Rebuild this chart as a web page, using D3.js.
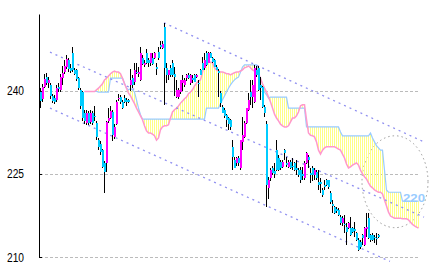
<!DOCTYPE html>
<html>
<head>
<meta charset="utf-8">
<script src="https://cdn.jsdelivr.net/npm/d3@7"></script>
<style>
  body { margin: 0; background: #fff; }
</style>
</head>
<body>
<script>
// candles, one every period
var opens = [240.0,238.5,240.8,242.5,241.5,241.0,239.0,238.8,238.4,240.8,
  240.2,242.3,243.5,244.3,245.6,244.2,246.8,243.8,243.8,242.3,
  240.2,239.8,236.0,234.2,236.0,234.4,236.0,235.5,234.2,231.2,
  230.5,229.3,227.0,227.0,234.5,235.2,236.2,231.7,234.0,238.5,
  238.9,238.0,238.8,238.4,238.3,241.1,242.3,241.6,243.5,243.0,
  242.0,246.0,244.7,246.9,245.5,245.1,246.0,246.0,244.3,247.0,
  248.3,247.8,251.6,244.2,242.9,244.2,245.1,243.0,238.9,238.9,
  239.8,241.5,241.1,242.3,242.9,241.4,242.3,242.9,242.6,241.5,
  243.8,245.1,244.2,246.9,245.1,246.9,246.0,245.6,244.3,243.6,
  239.6,237.1,236.6,235.7,235.1,234.8,229.9,227.5,227.0,227.9,
  226.1,230.8,231.7,234.2,236.6,239.8,238.9,238.0,243.8,244.2,
  241.1,240.7,237.1,234.0,222.5,224.3,226.1,225.5,229.3,227.9,
  227.2,226.3,229.3,227.0,226.3,227.2,226.5,227.0,226.0,225.7,
  225.7,225.0,224.3,227.0,228.1,225.2,226.1,224.8,225.4,223.6,
  223.5,222.1,223.0,223.9,223.9,221.6,219.5,219.0,218.7,218.5,
  217.2,216.1,216.0,215.4,215.2,215.2,215.2,215.0,214.3,213.1,
  212.8,214.0,212.2,215.0,217.0,214.0,214.0,213.6,213.5,214.0];

var highs = [240.5,241.2,243.0,243.2,242.5,241.5,239.5,239.2,241.0,241.4,
  243.0,244.5,245.5,246.5,246.0,244.8,248.0,244.2,244.0,242.6,
  240.5,240.0,236.5,236.5,236.3,236.6,236.4,237.2,234.5,231.5,
  231.0,229.6,227.3,234.5,237.0,237.2,236.6,234.0,238.3,239.4,
  239.2,238.3,239.2,238.8,238.6,244.0,242.8,245.1,245.1,244.3,
  248.0,246.5,245.5,247.5,246.0,246.9,246.9,247.0,245.0,248.0,
  249.0,249.0,252.3,245.1,243.8,244.7,245.5,244.3,242.0,240.5,
  242.0,242.9,242.3,243.0,243.2,243.0,242.9,243.1,243.0,242.0,
  244.0,246.1,246.9,247.2,247.0,247.0,246.2,245.8,244.6,244.0,
  240.0,237.5,237.0,235.9,235.3,235.0,231.1,228.1,228.0,228.3,
  229.0,235.3,234.5,237.0,239.7,242.0,242.0,244.7,244.5,244.5,
  242.5,240.9,237.5,234.5,224.5,226.0,226.5,227.0,231.1,228.5,
  227.5,227.5,229.6,228.0,227.5,227.5,227.9,227.2,227.5,226.0,
  226.3,226.3,227.3,229.0,228.5,226.1,226.5,226.1,225.7,225.7,
  224.3,222.5,223.9,224.1,224.0,221.9,220.3,219.2,219.0,218.8,
  217.5,217.4,217.6,216.1,216.3,217.2,215.5,216.3,214.5,213.4,
  213.0,214.2,215.5,218.0,218.0,214.2,214.3,214.0,214.3,214.2];

var lows = [237.0,238.0,240.5,241.0,240.5,238.5,237.8,237.6,238.0,239.8,
  239.8,241.0,243.0,244.0,243.5,243.2,243.5,242.8,241.8,240.2,
  236.8,234.5,234.0,233.8,233.8,234.0,233.8,234.5,231.2,229.3,
  228.5,226.0,221.6,225.4,234.2,235.0,231.0,231.3,233.8,238.2,
  237.6,236.8,237.8,237.2,237.8,240.0,240.5,241.0,243.0,242.5,
  241.8,244.7,244.3,244.9,244.3,244.5,244.7,245.8,242.9,245.5,
  247.5,247.5,237.5,241.4,242.0,242.5,242.5,239.0,238.7,238.5,
  239.5,240.0,240.8,241.8,242.2,241.0,241.4,241.6,242.4,238.9,
  242.8,243.8,243.8,244.5,245.0,245.9,245.1,244.3,243.7,238.9,
  237.1,236.0,235.1,233.5,233.0,233.0,225.7,226.0,226.5,226.5,
  225.8,229.3,231.5,234.0,236.4,237.5,236.9,237.8,242.6,240.0,
  238.4,236.9,235.3,219.0,220.5,223.8,224.8,224.3,225.5,225.5,
  225.8,226.0,227.5,226.3,226.0,225.9,225.7,225.5,224.8,224.5,
  223.3,223.9,224.0,226.8,226.0,223.4,223.7,223.9,224.0,222.1,
  221.6,220.8,222.1,222.8,222.3,219.6,218.0,217.8,218.0,217.4,
  215.8,215.6,214.3,212.2,215.0,213.8,214.3,213.6,212.9,211.0,
  211.5,212.2,212.0,213.6,213.2,212.8,212.9,212.5,212.2,213.4];

var closes = [238.2,240.8,242.2,241.5,242.0,239.0,238.2,238.0,240.6,240.4,
  242.5,243.3,244.5,245.8,244.0,243.6,243.8,243.0,242.2,240.6,
  237.2,235.2,234.5,236.0,234.2,236.0,234.2,235.3,231.7,229.8,
  228.9,226.2,225.4,234.4,235.2,236.4,232.0,233.5,238.0,238.7,
  238.0,237.0,238.0,238.0,238.0,242.0,241.1,243.8,243.3,243.4,
  246.9,244.9,245.1,245.1,245.0,246.9,244.9,246.9,244.0,246.0,
  248.0,248.5,244.2,242.9,243.8,242.9,242.9,242.5,240.2,240.2,
  242.0,242.0,242.0,242.9,242.4,242.9,242.0,241.6,242.9,241.2,
  242.9,243.8,245.6,244.7,246.9,246.0,245.2,244.4,243.8,243.2,
  237.8,236.0,235.4,234.8,234.0,233.5,228.1,226.1,227.9,227.0,
  231.1,232.0,234.2,236.9,238.4,238.9,241.1,244.2,242.9,240.2,
  240.6,237.1,236.0,223.0,223.9,225.7,225.2,225.0,225.7,225.7,
  226.1,227.2,228.8,226.6,227.2,226.1,226.2,225.7,225.8,224.8,
  223.9,224.6,227.0,228.8,227.5,224.8,224.8,225.7,224.3,223.0,
  223.2,221.2,222.7,223.0,222.6,219.9,219.2,218.0,218.4,217.6,
  216.1,217.0,215.7,214.5,216.1,214.0,214.5,214.7,213.1,211.3,
  211.8,213.4,215.2,215.4,213.4,213.1,213.1,213.4,213.3,213.6];

// ichimoku spans, starting at period 22 and running 20 periods past the last candle
var cloudStart = 22;
var spanA = [239.9,239.9,239.9,239.9,239.9,239.9,
  240.2,240.5,240.9,241.3,242.0,242.3,242.7,243.1,243.4,243.6,
  243.4,243.4,243.1,242.3,241.3,240.5,239.6,239.1,238.4,237.7,
  236.9,236.2,235.5,234.8,233.7,232.8,232.4,232.4,232.2,231.9,
  231.1,231.5,233.0,233.5,233.7,233.7,233.9,235.1,236.2,236.6,
  236.9,237.3,237.8,238.2,238.6,238.9,239.5,239.8,240.2,240.9,
  241.4,241.8,242.0,243.4,244.7,245.1,245.2,245.2,245.1,244.2,
  243.8,243.6,243.4,243.4,243.3,243.1,243.1,242.9,243.1,243.3,
  243.4,243.4,243.6,243.8,244.2,244.3,244.5,244.2,243.8,243.6,
  243.4,243.1,242.3,241.3,240.5,239.8,238.9,238.0,236.9,235.8,
  235.1,234.6,234.0,233.7,233.5,233.5,233.7,234.4,235.1,235.1,
  235.5,236.2,237.3,237.5,237.5,234.8,232.4,232.0,231.9,231.7,
  230.8,229.3,228.6,229.3,229.7,229.9,229.9,229.9,229.9,229.9,
  229.7,229.5,229.3,228.6,227.9,226.8,226.1,226.3,226.6,226.8,
  227.0,226.6,225.7,225.0,224.5,224.1,223.4,222.8,222.5,222.1,
  221.9,221.7,221.7,221.4,220.3,219.2,218.1,217.4,217.2,217.0,
  217.0,217.0,217.0,216.9,216.9,216.9,216.7,216.3,215.9,215.6,
  215.4,215.2];

var spanB = [239.9,239.9,239.9,239.9,239.9,239.9,239.9,
  239.8,239.8,239.8,239.8,239.8,239.8,
  242.3,242.3,242.3,242.3,242.3,242.3,242.3,
  241.4,240.5,240.2,240.4,240.2,239.8,238.4,236.9,235.7,234.9,
  234.9,234.9,234.9,234.9,234.9,234.9,234.9,234.9,234.9,234.9,
  234.9,234.9,234.9,234.9,234.9,234.9,234.9,234.9,234.9,234.9,
  234.9,234.9,234.9,234.9,234.9,234.9,234.9,234.9,234.9,234.9,234.9,
  236.9,236.9,236.9,236.9,236.9,236.9,236.9,
  237.7,238.4,239.1,239.8,240.5,241.1,241.6,242.0,242.3,242.5,243.4,244.3,
  244.7,244.7,244.7,244.7,244.7,244.7,244.7,
  242.9,241.1,240.5,239.8,239.3,238.7,238.9,
  238.9,238.9,238.9,238.9,238.9,238.9,238.9,238.9,
  236.9,236.9,236.9,236.9,236.9,236.9,236.9,236.9,236.9,
  233.5,233.5,233.5,233.5,233.5,233.5,233.5,233.5,233.5,
  233.5,233.5,233.5,233.5,233.5,233.5,233.5,233.5,
  232.6,
  231.9,231.9,231.9,231.9,231.9,231.9,231.9,231.9,231.9,231.9,231.9,231.9,231.9,231.9,
  232.4,231.5,230.8,230.1,229.7,229.3,229.3,225.7,222.1,
  221.7,221.7,221.7,221.7,221.7,221.7,221.7,
  220.1,220.1,220.1,220.1,220.1,220.1,220.1,220.1,220.1];
var spanLabel = "220";

// trend channel: [fromPeriod, fromValue, toPeriod, toValue]
var trendLines = [
  [62, 252.3, 192, 230.8],
  [5, 247.0, 192, 217.2],
  [5, 236.9, 175, 209.2]
];

// forecast circle: centre period, centre value, half width (periods), half height (value)
var circle = [177.5, 223.6, 16.5, 8.3];

var tickVals = [210, 225, 240];

var width = 433, height = 271;

var svg = d3.select("body").append("svg")
  .attr("width", width)
  .attr("height", height);

var x = d3.scaleLinear().domain([0, 189]).range([40, 418]);
var y = d3.scaleLinear().domain([210, 253.9]).range([257, 14]);

// grid
svg.append("g").selectAll("line")
  .data(tickVals)
  .enter().append("line")
  .attr("x1", x(0)).attr("x2", x(189))
  .attr("y1", function (d) { return Math.round(y(d)) + 0.5; })
  .attr("y2", function (d) { return Math.round(y(d)) + 0.5; })
  .attr("stroke", "#bbb")
  .attr("stroke-dasharray", "3,2")
  .attr("shape-rendering", "crispEdges");

// circle behind the cloud
svg.append("ellipse")
  .attr("cx", x(circle[0]))
  .attr("cy", y(circle[1]))
  .attr("rx", x(circle[2]) - x(0))
  .attr("ry", y(0) - y(circle[3]))
  .attr("fill", "none")
  .attr("stroke", "#999")
  .attr("stroke-dasharray", "1.5,3");

// cloud: vertical stripes between the two spans
var cloud = spanA.map(function (a, k) { return { i: cloudStart + k, a: a, b: spanB[k] }; });

svg.append("g").selectAll("line")
  .data(cloud)
  .enter().append("line")
  .attr("x1", function (d) { return x(d.i) + 0.5; })
  .attr("x2", function (d) { return x(d.i) + 0.5; })
  .attr("y1", function (d) { return y(d.a); })
  .attr("y2", function (d) { return y(d.b); })
  .attr("stroke", "#ffff88")
  .attr("shape-rendering", "crispEdges");

var spanLine = function (key) {
  return d3.line()
    .x(function (d) { return x(d.i) + 0.5; })
    .y(function (d) { return y(d[key]); });
};

svg.append("path")
  .attr("d", spanLine("b")(cloud))
  .attr("fill", "none")
  .attr("stroke", "#99ccff")
  .attr("stroke-width", 1.2);

svg.append("path")
  .attr("d", spanLine("a")(cloud))
  .attr("fill", "none")
  .attr("stroke", "#ff99cc")
  .attr("stroke-width", 1.5);

svg.append("text")
  .attr("x", 403)
  .attr("y", y(spanB[spanB.length - 1]) + 1)
  .attr("textLength", 22)
  .attr("lengthAdjust", "spacingAndGlyphs")
  .style("font-family", "Liberation Sans, Arial, sans-serif")
  .style("font-size", "11px")
  .style("font-weight", "bold")
  .attr("fill", "#99ccff")
  .text(spanLabel);

// trend channel
svg.append("g").selectAll("line")
  .data(trendLines)
  .enter().append("line")
  .attr("x1", function (d) { return x(d[0]); })
  .attr("y1", function (d) { return y(d[1]); })
  .attr("x2", function (d) { return x(d[2]); })
  .attr("y2", function (d) { return y(d[3]); })
  .attr("stroke", "#8f8ff0")
  .attr("stroke-width", 1.3)
  .attr("stroke-dasharray", "2,4");

// candles
var candles = closes.map(function (c, i) {
  return { i: i, o: opens[i], h: highs[i], l: lows[i], c: c };
});

var cg = svg.append("g").attr("shape-rendering", "crispEdges");
cg.selectAll("line")
  .data(candles)
  .enter().append("line")
  .attr("x1", function (d) { return x(d.i) + 0.5; })
  .attr("x2", function (d) { return x(d.i) + 0.5; })
  .attr("y1", function (d) { return y(d.h); })
  .attr("y2", function (d) { return y(d.l); })
  .attr("stroke", "#000");

cg.selectAll("rect")
  .data(candles)
  .enter().append("rect")
  .attr("x", function (d) { return x(d.i); })
  .attr("width", 2)
  .attr("y", function (d) { return y(Math.max(d.o, d.c)); })
  .attr("height", function (d) { return Math.max(1, Math.abs(y(d.o) - y(d.c))); })
  .attr("fill", function (d) { return d.c >= d.o ? "#ff00ff" : "#00ccff"; });

// y axis
var yAxis = d3.axisLeft(y)
  .tickValues(tickVals)
  .tickSizeInner(-3)
  .tickSizeOuter(0)
  .tickPadding(15);

var ag = svg.append("g")
  .attr("transform", "translate(39,0)")
  .call(yAxis);

ag.selectAll("text")
  .attr("textLength", 17)
  .attr("lengthAdjust", "spacingAndGlyphs")
  .style("font-family", "Liberation Sans, Arial, sans-serif")
  .style("font-size", "12.5px")
  .attr("fill", "#000");
</script>
</body>
</html>
